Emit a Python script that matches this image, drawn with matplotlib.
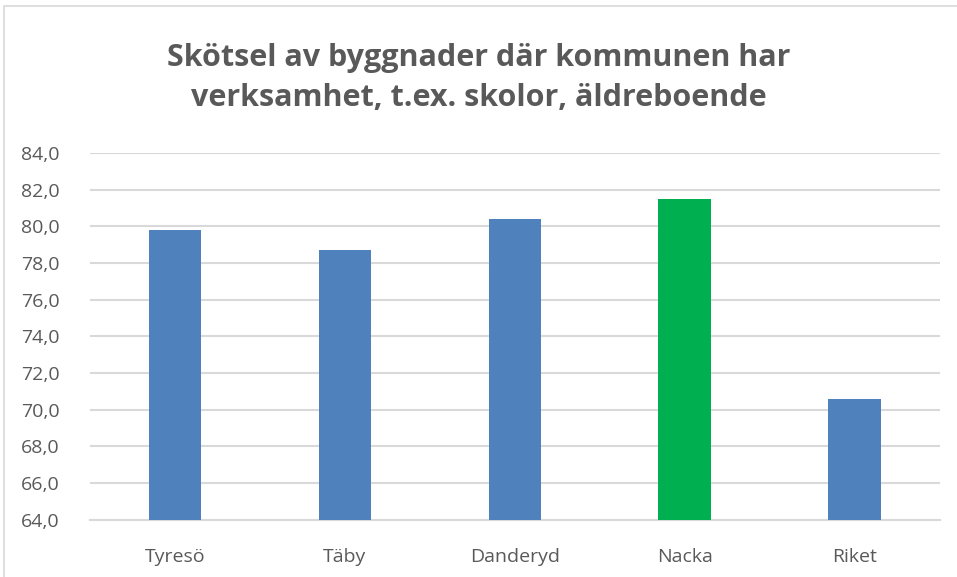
import matplotlib.pyplot as plt
from matplotlib.patches import Rectangle

# Data
kommuner = ['Tyresö', 'Täby', 'Danderyd', 'Nacka', 'Riket']
varden = [79.8, 78.7, 80.4, 81.5, 70.6]
farger = ['#4f81bd', '#4f81bd', '#4f81bd', '#00b050', '#4f81bd']
y_ticks = [64, 66, 68, 70, 72, 74, 76, 78, 80, 82, 84]

plt.rcParams['font.family'] = ['Open Sans', 'DejaVu Sans']

fig = plt.figure(figsize=(9.57, 5.77), dpi=100)
ax = fig.add_axes([0.094, 0.099, 0.888, 0.636])

ax.bar(range(len(kommuner)), varden, width=0.31, color=farger, zorder=3)

ax.set_ylim(64, 84)
ax.set_xlim(-0.5, len(kommuner) - 0.5)
ax.set_yticks(y_ticks)
ax.set_yticklabels([f'{v:.1f}'.replace('.', ',') for v in y_ticks])
ax.set_xticks(range(len(kommuner)))
ax.set_xticklabels(kommuner)

ax.grid(axis='y', color='#d9d9d9', linewidth=1.5, zorder=0)
for side in ['top', 'right', 'left']:
    ax.spines[side].set_visible(False)
ax.spines['bottom'].set_color('#d9d9d9')
ax.spines['bottom'].set_linewidth(1.5)
ax.tick_params(axis='both', length=0, labelsize=14, colors='#595959')
ax.tick_params(axis='y', pad=22)
ax.tick_params(axis='x', pad=20)

fig.text(0.5, 0.865, 'Skötsel av byggnader där kommunen har\nverksamhet, t.ex. skolor, äldreboende',
         ha='center', va='center', fontsize=22, fontweight='bold', color='#595959',
         linespacing=1.45)

# light chart border
fig.patches.append(Rectangle((0.004, -0.01), 1.2, 1.0, transform=fig.transFigure,
                             fill=False, edgecolor='#d9d9d9', linewidth=1.2))

fig.savefig('out.png', dpi=100)
